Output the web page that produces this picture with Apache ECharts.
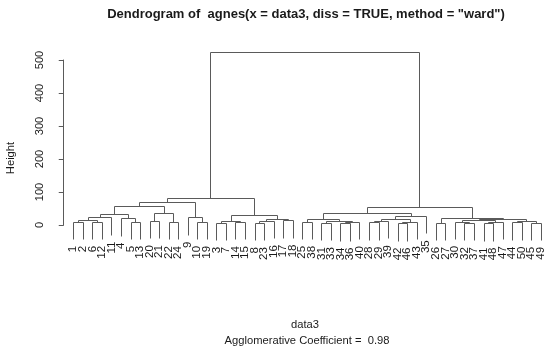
<!DOCTYPE html>
<html><head><meta charset="utf-8">
<script src="https://cdn.jsdelivr.net/npm/echarts@6/dist/echarts.min.js"></script>
<style>html,body{margin:0;padding:0;background:#fff}#c{width:550px;height:350px}</style>
</head><body><div id="c"></div>
<script>
// Leaf labels in plotted order (left to right)
const leafOrder = [1,2,6,12,11,4,5,13,20,21,22,24,9,10,19,3,7,14,15,8,23,16,17,18,
  25,38,31,33,34,36,40,28,29,39,42,46,43,35,26,27,30,32,37,41,48,47,44,50,45,49];
// Merges (hclust style): negative = leaf label, positive = earlier merge index (1-based); third = height
const merges = [
  [-1,-2,10],[-6,-12,10],[1,2,15],[3,-11,23],[-5,-13,10],[-4,5,20],[4,6,34],
  [-20,-21,12],[-22,-24,9],[8,9,36],[7,10,58],[-10,-19,10],[-9,12,23],[11,13,70],
  [-3,-7,7],[-14,-15,9],[15,16,13],[-8,-23,6],[18,-16,12],[-17,-18,14],[19,20,17],
  [17,21,30],[14,22,83],
  [-25,-38,10],[-31,-33,6],[-34,-36,5],[26,-40,9],[25,27,12],[24,28,17],
  [-28,-29,8],[30,-39,12],[-42,-46,5],[32,-43,9],[31,33,17],[34,-35,27],[29,35,35],
  [-26,-27,7],[-32,-37,6],[-30,38,10],[-41,-48,5],[40,-47,9],[39,41,15],
  [-44,-50,8],[-45,-49,7],[43,44,12],[42,45,18],[37,46,22],[36,47,55],
  [23,48,525]
];
const yTicks = [0,100,200,300,400,500];
const hangFraction = 0.1;

const pos = {}; leafOrder.forEach((l,i)=>{pos[l]=i+1;});
const hts = merges.map(m=>m[2]);
const hang = hangFraction*(Math.max(...hts)-Math.min(...hts));
const nodeX = [], segs = [], leaves = [];
merges.forEach((m,i)=>{
  const h = m[2], parts = [];
  [m[0],m[1]].forEach(c=>{
    if (c<0){ const x=pos[-c]; parts.push([x,h-hang]); leaves.push([x,h-hang,String(-c)]); }
    else parts.push([nodeX[c-1], merges[c-1][2]]);
  });
  nodeX[i] = (parts[0][0]+parts[1][0])/2;
  segs.push([parts[0][0],parts[0][1],parts[1][0],parts[1][1],h]);
});

const LINE = '#5a5a5a', TXT = '#1a1a1a', FONT = 'Liberation Sans, Arial, sans-serif';
const snap = p => [Math.round(p[0])+0.5, Math.round(p[1])+0.5];

const chart = echarts.init(document.getElementById('c'), null, {renderer:'canvas'});
chart.setOption({
  animation:false,
  backgroundColor:'#fff',
  grid:{left:54.2, top:60, width:496.1, height:165, outerBoundsMode:'none'},
  xAxis:{type:'value', min:-1, max:51, show:false},
  yAxis:{type:'value', min:yTicks[0], max:yTicks[yTicks.length-1], interval:100,
    axisLine:{show:true, lineStyle:{color:LINE, width:1}},
    axisTick:{show:true, length:5, lineStyle:{color:LINE}},
    splitLine:{show:false},
    axisLabel:{rotate:90, margin:9, color:TXT, fontSize:11.2, fontFamily:FONT}
  },
  graphic:[
    {type:'text', x:306, y:14, style:{text:'Dendrogram of  agnes(x = data3, diss = TRUE, method = "ward")',
      fontSize:13, fontWeight:'bold', fontFamily:FONT, fill:TXT, textAlign:'center', textVerticalAlign:'middle'}},
    {type:'text', x:11, y:158, rotation:Math.PI/2, style:{text:'Height', fontSize:11.2, fontFamily:FONT, fill:TXT,
      textAlign:'center', textVerticalAlign:'middle'}},
    {type:'text', x:305, y:325, style:{text:'data3', fontSize:11.2, fontFamily:FONT, fill:TXT, textAlign:'center', textVerticalAlign:'middle'}},
    {type:'text', x:307, y:341, style:{text:'Agglomerative Coefficient =  0.98', fontSize:11.2, fontFamily:FONT, fill:TXT, textAlign:'center', textVerticalAlign:'middle'}}
  ],
  series:[
    {type:'custom', clip:false, data:segs, encode:{x:[0,2], y:[1,3,4]},
      renderItem:(params, api)=>{
        const a=snap(api.coord([api.value(0),api.value(1)])), b=snap(api.coord([api.value(0),api.value(4)])),
              c=snap(api.coord([api.value(2),api.value(4)])), d=snap(api.coord([api.value(2),api.value(3)]));
        return {type:'polyline', shape:{points:[a,b,c,d]}, style:{stroke:LINE, lineWidth:1, fill:null}};
      }},
    {type:'custom', clip:false, data:leaves, encode:{x:0, y:1},
      renderItem:(params, api)=>{
        const p = api.coord([api.value(0),api.value(1)]);
        return {type:'text', x:p[0], y:p[1]+7, rotation:Math.PI/2,
          style:{text:leaves[params.dataIndex][2], fontSize:11.5, fontFamily:FONT, fill:TXT, textAlign:'right', textVerticalAlign:'middle'}};
      }}
  ]
});
</script></body></html>
